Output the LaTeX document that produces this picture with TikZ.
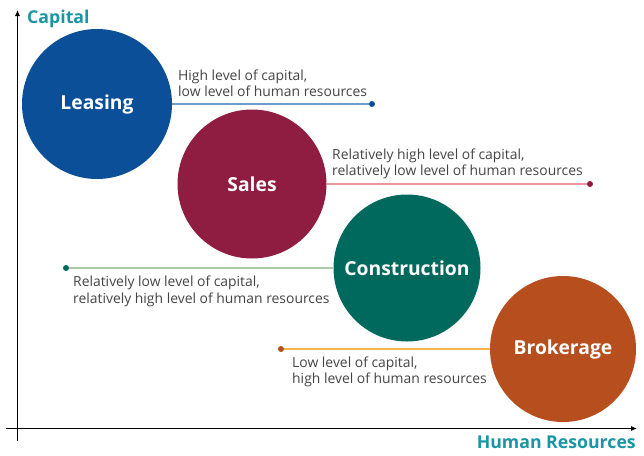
\documentclass[tikz,border=0pt]{standalone}
\usepackage{fontspec}
\setmainfont{Open Sans}
\usetikzlibrary{arrows.meta}
\definecolor{teal1}{HTML}{1B95A3}
\definecolor{lblue}{HTML}{0A4F97}
\definecolor{lbluel}{HTML}{6E9BCB}
\definecolor{smar}{HTML}{8F1D42}
\definecolor{smarl}{HTML}{E8999C}
\definecolor{cgreen}{HTML}{00695E}
\definecolor{cgreenl}{HTML}{ABCBA6}
\definecolor{bor}{HTML}{B74E1E}
\definecolor{borl}{HTML}{F4B54A}
\definecolor{txt}{HTML}{444444}
\tikzset{
  bubble/.style={circle, fill=#1, draw=none, inner sep=0pt, text=white,
    font=\fontsize{19.3}{22}\selectfont\bfseries},
  enddot/.style={circle, fill=#1, inner sep=0pt, minimum size=6pt},
  link/.style={line width=2.4pt, draw=#1},
  desc/.style={anchor=base west, align=left, text=txt, inner sep=0pt,
    font=\fontsize{13.9}{16.5}\selectfont},
  axislabel/.style={text=teal1, font=\fontsize{17.7}{20}\selectfont\bfseries, inner sep=0pt}
}
\begin{document}
\begin{tikzpicture}[x=1pt,y=-1pt]
\useasboundingbox (0,0) rectangle (644,455);
% axes
\coordinate (o1) at (17.5,441);
\coordinate (o2) at (17.5,10);
\coordinate (h1) at (6,428.5);
\coordinate (h2) at (637,428.5);
\draw[line width=1pt, -{Latex[length=6pt,width=5pt]}] (o1) -- (o2);
\draw[line width=1pt, -{Latex[length=6pt,width=5pt]}] (h1) -- (h2);
\node[axislabel, anchor=base west] (cap) at (27,23) {Capital};
\node[axislabel, anchor=base east] (hr) at (636,448) {Human Resources};
% bubbles
\node[bubble=lblue, minimum size=150pt] (leasing) at (97,104) {Leasing};
\node[bubble=smar, minimum size=149pt] (sales) at (252,184) {Sales};
\node[bubble=cgreen, minimum size=147pt] (constr) at (407,268) {Construction};
\node[bubble=bor, minimum size=146pt] (broker) at (563,349) {Brokerage};
% dots
\node[enddot=lblue] (d1) at (372,104) {};
\node[enddot=smar] (d2) at (590,184) {};
\node[enddot=cgreen] (d3) at (66,268) {};
\node[enddot=bor] (d4) at (281,349) {};
% links
\draw[link=lbluel] (leasing.east) -- (d1.west);
\draw[link=smarl] (sales.east) -- (d2.west);
\draw[link=cgreenl] (d3.east) -- (constr.west);
\draw[link=borl] (d4.east) -- (broker.west);
% descriptions (anchor = baseline of the last line)
\node[desc] (t1) at (178,96.5) {High level of capital,\\low level of human resources};
\node[desc] (t2) at (332,175.5) {Relatively high level of capital,\\relatively low level of human resources};
\node[desc] (t3) at (73,303) {Relatively low level of capital,\\relatively high level of human resources};
\node[desc] (t4) at (292,383.5) {Low level of capital,\\high level of human resources};
\end{tikzpicture}
\end{document}
